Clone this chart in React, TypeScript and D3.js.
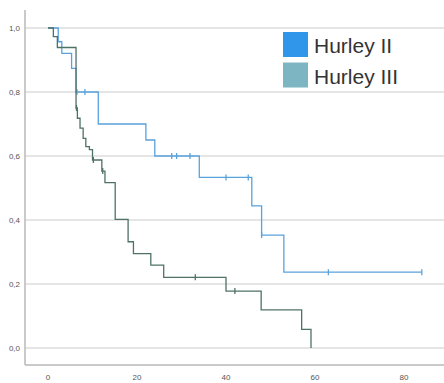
import React from "react";
import * as d3 from "d3";

const W = 444;
const H = 383;

// Hurley II (blue) step function: times where survival drops, and new level
const h2Times = [0, 2.3, 3.1, 5.3, 6.3, 11.3, 22.0, 24.0, 34.0, 45.8, 48.0, 53.0, 84.0];
const h2Surv = [1.0, 0.957, 0.921, 0.874, 0.8, 0.7, 0.65, 0.6, 0.533, 0.444, 0.353, 0.237, 0.237];
const h2CensorT = [6.5, 8.3, 27.8, 28.9, 31.9, 40.0, 45.0, 48.0, 63.0, 84.0];

// Hurley III (dark) step function
const h3Times = [0, 1.2, 2.1, 6.3, 6.6, 7.2, 7.9, 8.5, 9.3, 10.0, 12.1, 12.8, 15.1, 18.0, 19.2, 23.1, 26.0, 40.0, 47.9, 57.0, 59.1];
const h3Surv = [1.0, 0.973, 0.939, 0.75, 0.718, 0.687, 0.655, 0.629, 0.62, 0.5875, 0.553, 0.517, 0.402, 0.332, 0.295, 0.259, 0.221, 0.178, 0.119, 0.058, 0.0];
const h3CensorT = [6.4, 10.2, 12.3, 33.1, 42.0];

const yTicks = [0, 0.2, 0.4, 0.6, 0.8, 1.0];
const xTicks = [0, 20, 40, 60, 80];
const legendLabels = ["Hurley II", "Hurley III"];
const legendColors = ["#2f96ea", "#7db6c2"];
const lineColors = ["#5aa2dc", "#4f7268"];

function survAt(times: number[], surv: number[], t: number) {
  let s = surv[0];
  for (let i = 0; i < times.length; i++) {
    if (times[i] <= t) s = surv[i];
  }
  return s;
}

export default function App() {
  const x = d3.scaleLinear().domain([0, 80]).range([48, 404]);
  const y = d3.scaleLinear().domain([0, 1]).range([348, 28]);

  const line = d3
    .line<[number, number]>()
    .x((d) => x(d[0]))
    .y((d) => y(d[1]))
    .curve(d3.curveStepAfter);

  const series = [
    { times: h2Times, surv: h2Surv, censor: h2CensorT, color: lineColors[0] },
    { times: h3Times, surv: h3Surv, censor: h3CensorT, color: lineColors[1] },
  ];

  return (
    <svg width={W} height={H} style={{ position: "absolute", left: 0, top: 0 }}>
      <rect x={0} y={0} width={W} height={H} fill="#fff" />
      {yTicks.map((t) => (
        <g key={t}>
          <line x1={25} x2={W} y1={y(t)} y2={y(t)} stroke="#dcdcdc" strokeWidth={1.5} />
          <text
            x={20}
            y={y(t) + 3}
            textAnchor="end"
            fontSize={8}
            fontFamily="Liberation Sans, Arial, sans-serif"
            fill="#555"
          >
            {d3.format(".1f")(t).replace(".", ",")}
          </text>
        </g>
      ))}
      <line x1={25} x2={25} y1={10} y2={365} stroke="#b8b8b8" strokeWidth={1.5} />
      <line x1={25} x2={W} y1={365} y2={365} stroke="#b8b8b8" strokeWidth={1.5} />
      {xTicks.map((t) => (
        <text
          key={t}
          x={x(t)}
          y={380}
          textAnchor="middle"
          fontSize={8}
          fontFamily="Liberation Sans, Arial, sans-serif"
          fill="#555"
        >
          {t}
        </text>
      ))}
      {series.map((s, i) => {
        const pts: [number, number][] = s.times.map((t, j) => [t, s.surv[j]]);
        return (
          <g key={i}>
            <path d={line(pts) || ""} fill="none" stroke={s.color} strokeWidth={1.3} />
            {s.censor.map((c, k) => {
              const cy = y(survAt(s.times, s.surv, c));
              return (
                <line
                  key={k}
                  x1={x(c)}
                  x2={x(c)}
                  y1={cy - 3}
                  y2={cy + 3}
                  stroke={s.color}
                  strokeWidth={1.3}
                />
              );
            })}
          </g>
        );
      })}
      {legendLabels.map((lab, i) => (
        <g key={lab}>
          <rect x={283} y={32 + i * 30.5} width={25} height={25} fill={legendColors[i]} />
          <text
            x={314}
            y={53 + i * 30.5}
            fontSize={21}
            fontFamily="Liberation Sans, Arial, sans-serif"
            fill="#333"
          >
            {lab}
          </text>
        </g>
      ))}
    </svg>
  );
}
